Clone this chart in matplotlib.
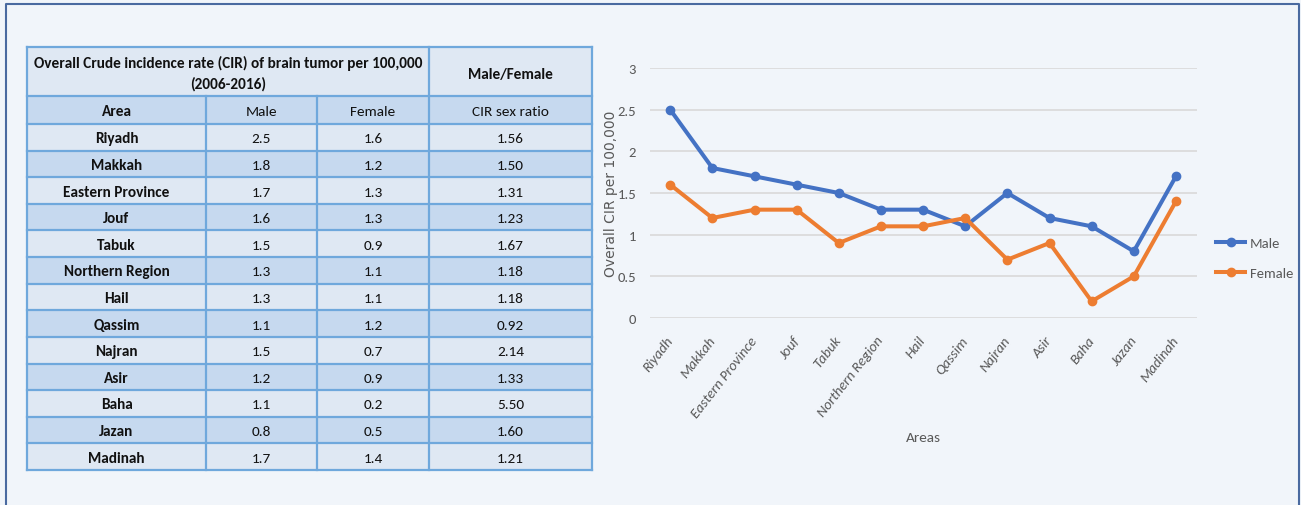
#!/usr/bin/python3
# brain tumor CIR: table on the left, line chart on the right
import matplotlib
matplotlib.use('Agg')
import matplotlib.pyplot as plt
from matplotlib.patches import Rectangle
from matplotlib.lines import Line2D

areas = ['Riyadh', 'Makkah', 'Eastern Province', 'Jouf', 'Tabuk', 'Northern Region',
         'Hail', 'Qassim', 'Najran', 'Asir', 'Baha', 'Jazan', 'Madinah']
male = [2.5, 1.8, 1.7, 1.6, 1.5, 1.3, 1.3, 1.1, 1.5, 1.2, 1.1, 0.8, 1.7]
female = [1.6, 1.2, 1.3, 1.3, 0.9, 1.1, 1.1, 1.2, 0.7, 0.9, 0.2, 0.5, 1.4]
ratio = ['1.56', '1.50', '1.31', '1.23', '1.67', '1.18', '1.18', '0.92', '2.14',
         '1.33', '5.50', '1.60', '1.21']
yticks = [0, 0.5, 1, 1.5, 2, 2.5, 3]
ytick_labels = ['0', '0.5', '1', '1.5', '2', '2.5', '3']

BG = '#f1f5fa'
NARROW = ['Carlito', 'Roboto Condensed', 'DejaVu Sans']
GREY = '#595959'
W, H = 1301, 506

fig = plt.figure(figsize=(W / 100, H / 100), dpi=100, facecolor=BG)

# ---- table, drawn in pixel coords on a full-figure axes
tab = fig.add_axes([0, 0, 1, 1])
tab.set_xlim(0, W)
tab.set_ylim(H, 0)
tab.axis('off')

# outer frame
fig.add_artist(Line2D([5.5 / W, 5.5 / W, 1298.5 / W, 1298.5 / W],
                      [0, 1 - 4.5 / H, 1 - 4.5 / H, 0],
                      transform=fig.transFigure, color='#4a6aa0', lw=1.5))

cols = [27, 206, 317, 429, 592]
top, y_hdr, y_sub = 48, 97, 125
row_h = (471 - y_sub) / len(areas)
light, dark, edge = '#dfe8f3', '#c6d9ef', '#6fa8dc'

tab.add_patch(Rectangle((cols[0], top), cols[4] - cols[0], y_hdr - top,
                        facecolor=light, edgecolor='none'))
tab.add_patch(Rectangle((cols[0], y_hdr), cols[4] - cols[0], y_sub - y_hdr,
                        facecolor=dark, edgecolor='none'))
for i in range(len(areas)):
    y0 = y_sub + i * row_h
    tab.add_patch(Rectangle((cols[0], y0), cols[4] - cols[0], row_h,
                            facecolor=light if i % 2 == 0 else dark, edgecolor='none'))

# grid lines
for y in [top, y_hdr, y_sub] + [y_sub + i * row_h for i in range(1, len(areas) + 1)]:
    tab.plot([cols[0], cols[4]], [y, y], color=edge, lw=1.6)
for x in [cols[0], cols[3], cols[4]]:
    tab.plot([x, x], [top, 471], color=edge, lw=1.6)
for x in [cols[1], cols[2]]:
    tab.plot([x, x], [y_hdr, 471], color=edge, lw=1.6)

fs = 11
tab.text((cols[0] + cols[3]) / 2, (top + y_hdr) / 2 + 1,
         'Overall Crude incidence rate (CIR) of brain tumor per 100,000\n(2006-2016)',
         ha='center', va='center', fontsize=fs, fontweight='bold', family=NARROW,
         color='#111111', linespacing=1.55)
tab.text((cols[3] + cols[4]) / 2, (top + y_hdr) / 2 + 2, 'Male/Female', ha='center',
         va='center', fontsize=fs, fontweight='bold', family=NARROW, color='#111111')
sub = ['Area', 'Male', 'Female', 'CIR sex ratio']
for j, s in enumerate(sub):
    tab.text((cols[j] + cols[j + 1]) / 2, (y_hdr + y_sub) / 2 + 1, s, ha='center',
             va='center', fontsize=fs, family=NARROW, color='#111111',
             fontweight='bold' if j == 0 else 'normal')
for i in range(len(areas)):
    yc = y_sub + (i + 0.5) * row_h + 1
    vals = [areas[i], '%.1f' % male[i], '%.1f' % female[i], ratio[i]]
    for j, s in enumerate(vals):
        tab.text((cols[j] + cols[j + 1]) / 2, yc, s, ha='center', va='center',
                 fontsize=fs, family=NARROW, color='#111111',
                 fontweight='bold' if j == 0 else 'normal')

# ---- line chart
x0, x1, yt, yb = 650, 1197, 69, 319
ax = fig.add_axes([x0 / W, 1 - yb / H, (x1 - x0) / W, (yb - yt) / H])
ax.set_facecolor('none')
xs = list(range(len(areas)))
ax.plot(xs, male, color='#4472c4', lw=2.9, marker='o', ms=6, label='Male')
ax.plot(xs, female, color='#ed7d31', lw=2.9, marker='o', ms=6, label='Female')
ax.set_xlim(-0.48, len(areas) - 0.5)
ax.set_ylim(0, 3)
ax.set_yticks(yticks)
ax.set_yticklabels(ytick_labels, family=NARROW, fontsize=10.5, color=GREY)
ax.set_xticks(xs)
ax.set_xticklabels(areas, rotation=52, ha='right', va='center', rotation_mode='anchor',
                   family=NARROW, fontsize=10.5, color=GREY, style='italic')
ax.tick_params(length=0)
ax.tick_params(axis='y', pad=10)
ax.tick_params(axis='x', pad=14)
ax.grid(axis='y', color='#d9d9d9', lw=1.2)
ax.set_axisbelow(True)
for sp in ax.spines.values():
    sp.set_visible(False)

fig.text(611 / W, 1 - 194 / H, 'Overall CIR per 100,000', rotation=90, ha='center',
         va='center', fontsize=10, color=GREY, family='DejaVu Sans')
fig.text(923 / W, 1 - 438 / H, 'Areas', ha='center', va='center', fontsize=11,
         color=GREY, family=NARROW)

leg = ax.legend(loc='center left', bbox_to_anchor=(1206 / W, 1 - 259 / H),
                bbox_transform=fig.transFigure, frameon=False, handlelength=2.0,
                handletextpad=0.3, labelspacing=1.2, borderpad=0.2,
                prop={'family': NARROW, 'size': 10.5})
for t in leg.get_texts():
    t.set_color(GREY)

fig.savefig('out.png', dpi=100, facecolor=BG)
